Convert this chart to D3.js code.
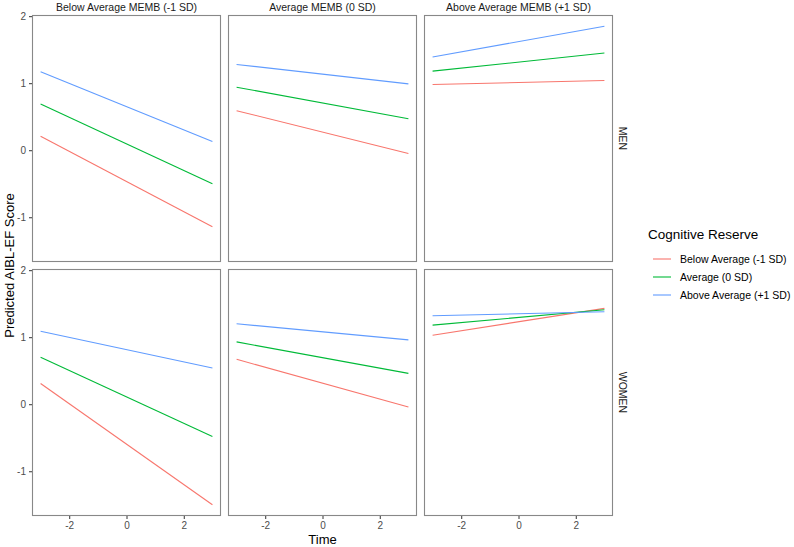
<!DOCTYPE html>
<html>
<head>
<meta charset="utf-8">
<script src="https://cdn.jsdelivr.net/npm/d3@7"></script>
<style>
  body { margin: 0; background: #fff; }
  text { font-family: "Liberation Sans", Arial, sans-serif; }
  .tick text { fill: #4d4d4d; font-size: 10px; }
  .tick line { stroke: #333; }
  .strip { fill: #1a1a1a; font-size: 10.5px; }
  .axis-title { fill: #000; font-size: 13px; }
</style>
</head>
<body>
<div class="wrapper"></div>
<script>

// data
const memb = ["Below Average MEMB (-1 SD)", "Average MEMB (0 SD)", "Above Average MEMB (+1 SD)"]
const sexes = ["MEN", "WOMEN"]
const reserve = ["Below Average (-1 SD)", "Average (0 SD)", "Above Average (+1 SD)"]
const colors = ["#F8766D", "#00BA38", "#619CFF"]
const timePoints = [-3, 3]
const xTicks = [-2, 0, 2]
const yTicks = [-1, 0, 1, 2]

// predicted score at time -3 and +3, [memb][reserve]
const menScores = [
  [[0.21, -1.14], [0.69, -0.50], [1.17, 0.13]],
  [[0.59, -0.05], [0.94, 0.47], [1.28, 0.99]],
  [[0.98, 1.04], [1.18, 1.45], [1.39, 1.85]],
]
const womenScores = [
  [[0.31, -1.50], [0.70, -0.48], [1.09, 0.54]],
  [[0.67, -0.04], [0.93, 0.46], [1.20, 0.96]],
  [[1.03, 1.43], [1.18, 1.41], [1.32, 1.38]],
]

const scores = { MEN: menScores, WOMEN: womenScores }

let dimensions = {
  width: 794,
  height: 547,
  left: 32,
  top: 15,
  panelWidth: 189,
  panelHeight: 247,
  gap: 7,
}

const svg = d3.select(".wrapper")
  .append("svg")
  .attr("width", dimensions.width)
  .attr("height", dimensions.height)

// scales (ggplot style 5% expansion)
const allY = []
sexes.forEach(s => scores[s].forEach(m => m.forEach(r => allY.push(...r))))
const yMin = d3.min(allY), yMax = d3.max(allY)
const yPad = (yMax - yMin) * 0.05
const xPad = (timePoints[1] - timePoints[0]) * 0.05

const xScale = d3.scaleLinear()
  .domain([timePoints[0] - xPad, timePoints[1] + xPad])
  .range([0, dimensions.panelWidth])

const yScale = d3.scaleLinear()
  .domain([yMin - yPad, yMax + yPad])
  .range([dimensions.panelHeight, 0])

const line = d3.line()
  .x((d, i) => xScale(timePoints[i]))
  .y(d => yScale(d))

sexes.forEach((sex, row) => {
  memb.forEach((m, col) => {
    const px = dimensions.left + col * (dimensions.panelWidth + dimensions.gap)
    const py = dimensions.top + row * (dimensions.panelHeight + dimensions.gap)
    const panel = svg.append("g")
      .attr("transform", `translate(${px},${py})`)

    panel.append("rect")
      .attr("width", dimensions.panelWidth)
      .attr("height", dimensions.panelHeight)
      .attr("fill", "#fff")

    panel.selectAll("path.series")
      .data(scores[sex][col])
      .enter()
      .append("path")
        .attr("class", "series")
        .attr("d", d => line(d))
        .attr("fill", "none")
        .attr("stroke", (d, i) => colors[i])
        .attr("stroke-width", 1.1)

    panel.append("rect")
      .attr("x", 0.5)
      .attr("y", 0.5)
      .attr("width", dimensions.panelWidth - 1)
      .attr("height", dimensions.panelHeight - 1)
      .attr("fill", "none")
      .attr("stroke", "#888")
      .attr("stroke-width", 1.1)

    if (col == 0) {
      panel.append("g")
        .call(d3.axisLeft(yScale).tickValues(yTicks).tickSize(3).tickPadding(3).tickFormat(d3.format("d")))
        .call(g => g.select(".domain").remove())
    }
    if (row == 1) {
      panel.append("g")
        .attr("transform", `translate(0,${dimensions.panelHeight})`)
        .call(d3.axisBottom(xScale).tickValues(xTicks).tickSize(3).tickPadding(3).tickFormat(d3.format("d")))
        .call(g => g.select(".domain").remove())
    }
    if (row == 0) {
      svg.append("text")
        .attr("class", "strip")
        .attr("x", px + dimensions.panelWidth / 2)
        .attr("y", 11)
        .attr("text-anchor", "middle")
        .text(m)
    }
    if (col == memb.length - 1) {
      svg.append("text")
        .attr("class", "strip")
        .attr("transform", `translate(${px + dimensions.panelWidth + 6},${py + dimensions.panelHeight / 2}) rotate(90)`)
        .attr("text-anchor", "middle")
        .text(sex)
    }
  })
})

// minus signs as hyphens like the original
svg.selectAll(".tick text").text(function() { return this.textContent.replace("\u2212", "-") })

const plotRight = dimensions.left + 3 * dimensions.panelWidth + 2 * dimensions.gap
const plotBottom = dimensions.top + 2 * dimensions.panelHeight + dimensions.gap

svg.append("text")
  .attr("class", "axis-title")
  .attr("x", dimensions.left + (plotRight - dimensions.left) / 2)
  .attr("y", 544)
  .attr("text-anchor", "middle")
  .text("Time")

svg.append("text")
  .attr("class", "axis-title")
  .attr("transform", `translate(14,${(dimensions.top + plotBottom) / 2}) rotate(-90)`)
  .attr("text-anchor", "middle")
  .text("Predicted AIBL-EF Score")

// legend
const legend = svg.append("g")
  .attr("transform", "translate(648,0)")

legend.append("text")
  .attr("x", 0)
  .attr("y", 239)
  .attr("font-size", "13.5px")
  .attr("fill", "#000")
  .text("Cognitive Reserve")

const items = legend.selectAll("g.item")
  .data(reserve)
  .enter()
  .append("g")
    .attr("class", "item")
    .attr("transform", (d, i) => `translate(0,${259 + i * 18})`)

items.append("line")
  .attr("x1", 5)
  .attr("x2", 23)
  .attr("stroke", (d, i) => colors[i])
  .attr("stroke-width", 1.1)

items.append("text")
  .attr("x", 32)
  .attr("dy", "0.35em")
  .attr("font-size", "10.5px")
  .attr("fill", "#000")
  .text(d => d)

</script>
</body>
</html>
